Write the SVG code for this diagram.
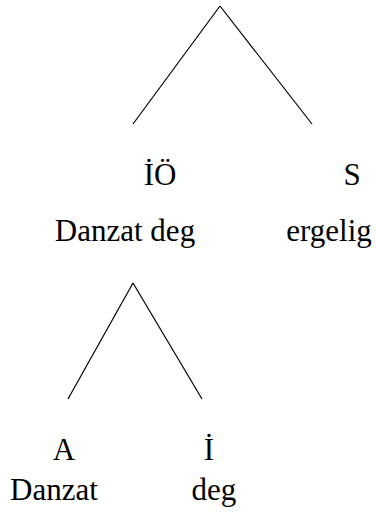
<svg xmlns="http://www.w3.org/2000/svg" width="376" height="525" viewBox="0 0 376 525">
<style>
text{font-family:"Liberation Serif","Times New Roman",serif;font-size:31px;fill:#000;text-anchor:middle}
.e{stroke:#000;stroke-width:1.2;fill:none}
</style>
<rect width="376" height="525" fill="#fff"/>
<g id="connectors">
<line class="e" x1="220" y1="6" x2="133" y2="124"/>
<line class="e" x1="220" y1="6" x2="312" y2="124"/>
<line class="e" x1="133" y1="283" x2="68" y2="399"/>
<line class="e" x1="133" y1="283" x2="202" y2="399"/>
</g>
<g id="node-IO"><text x="160" y="185">İÖ</text><text x="125" y="241">Danzat deg</text></g>
<g id="node-S"><text x="352" y="185">S</text><text x="329" y="241">ergelig</text></g>
<g id="node-A"><text x="64" y="460">A</text><text x="54" y="500">Danzat</text></g>
<g id="node-I"><text x="209" y="460">İ</text><text x="214" y="500">deg</text></g>
</svg>
